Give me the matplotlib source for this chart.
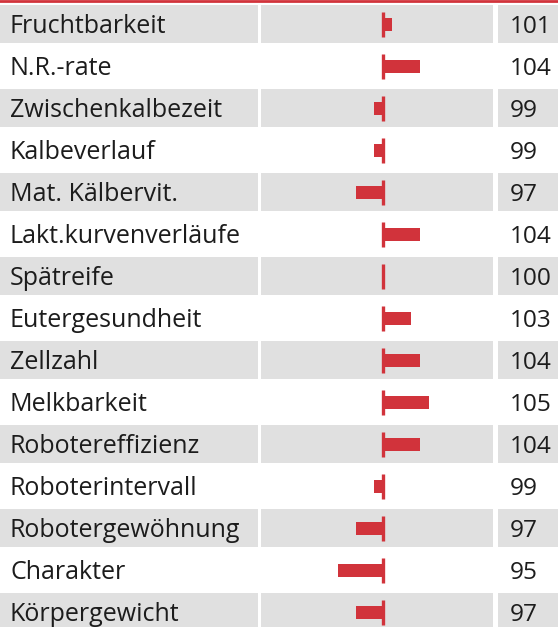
import matplotlib
matplotlib.use("Agg")
import matplotlib.pyplot as plt
from matplotlib.lines import Line2D

plt.rcParams['font.family'] = ['Open Sans', 'DejaVu Sans']

traits = ["Fruchtbarkeit", "N.R.-rate", "Zwischenkalbezeit", "Kalbeverlauf",
          "Mat. Kälbervit.", "Lakt.kurvenverläufe", "Spätreife", "Eutergesundheit",
          "Zellzahl", "Melkbarkeit", "Robotereffizienz", "Roboterintervall",
          "Robotergewöhnung", "Charakter", "Körpergewicht"]
values = [101, 104, 99, 99, 97, 104, 100, 103, 104, 105, 104, 99, 97, 95, 97]

RED = "#d1333b"
GRAY = "#e0e0e0"
TXT = "#1c1c1c"

W, H = 558, 627
fig = plt.figure(figsize=(W / 100, H / 100), dpi=100)

# rows are 42 px apart, first row centred 24 px below the top edge
pitch = 42.0
y_top = -24 / pitch
y_bot = (H - 24) / pitch
half = 19 / pitch


def column(x0, x1):
    ax = fig.add_axes([x0 / W, 0, (x1 - x0) / W, 1])
    ax.set_ylim(y_bot, y_top)
    ax.axis("off")
    for i in range(0, len(traits), 2):
        ax.axhspan(i - half, i + half, color=GRAY, lw=0, zorder=0)
    return ax


ax_lab = column(0, 258)
ax_lab.set_xlim(0, 258)
ax_bar = column(261, 493)
ax_val = column(498, W)
ax_val.set_xlim(498, W)

for i, (t, v) in enumerate(zip(traits, values)):
    ax_lab.text(10, i + 0.07, t, fontsize=18, color=TXT, va="center", ha="left")
    ax_val.text(510, i + 0.07, str(v), fontsize=17.6, color=TXT, va="center", ha="left")

# bars grow from the 100 baseline
px_per_unit = 9.15
centre = 383.3
ax_bar.set_xlim(100 - (centre - 261) / px_per_unit, 100 + (493 - centre) / px_per_unit)
rows = list(range(len(traits)))
ax_bar.barh(rows, [v - 100 for v in values], left=100, height=13 / pitch,
            color=RED, lw=0, zorder=2)
for i in rows:
    ax_bar.plot([100, 100], [i - 12.5 / pitch, i + 12.5 / pitch], color=RED,
                lw=2.4, solid_capstyle="butt", zorder=3)

# red rule along the top edge
fig.add_artist(Line2D([0, 1], [1 - 1.2 / H, 1 - 1.2 / H], transform=fig.transFigure,
                      color=RED, lw=2.0))

fig.savefig("out.png", dpi=100)
